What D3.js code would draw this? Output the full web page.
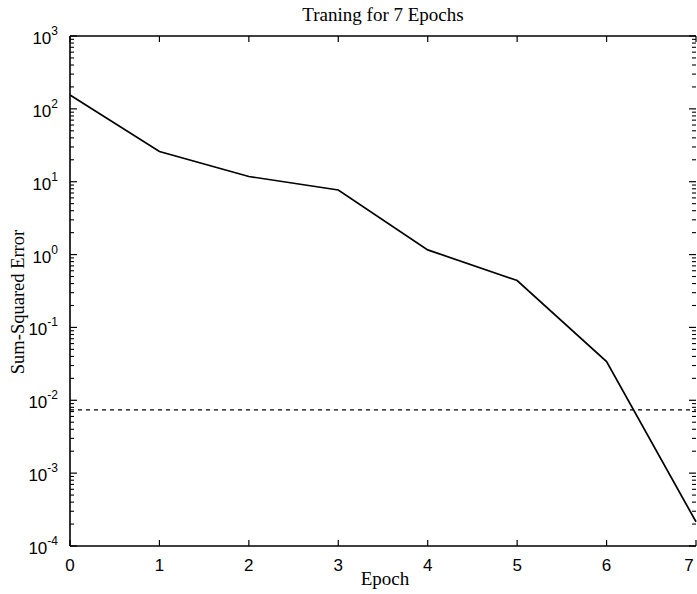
<!DOCTYPE html>
<html><head><meta charset="utf-8">
<script src="https://cdn.jsdelivr.net/npm/d3@7"></script>
<style>body{margin:0;background:#fff}svg{display:block}</style>
</head><body>
<svg id="c" width="697" height="594"></svg>
<script>
const epochs = [0,1,2,3,4,5,6,7];
const sse = [155, 26, 11.8, 7.7, 1.16, 0.44, 0.034, 0.000215];
const goal = [0.0074];
const xTicks = [0,1,2,3,4,5,6,7];
const yExps = [3,2,1,0,-1,-2,-3,-4];
const title = "Traning for 7 Epochs";
const xLabel = "Epoch";
const yLabel = "Sum-Squared Error";

const svg = d3.select("#c");
const L = 70, R = 696, T = 36, B = 546;
const x = d3.scaleLinear().domain([0,7]).range([L,R]);
const y = d3.scaleLog().domain([1e-4,1e3]).range([B,T]);
const serif = "'Liberation Serif','Times New Roman',serif";
const sans = "'Liberation Sans',Arial,sans-serif";

// axes lines (left, bottom, top)
const g = svg.append("g").attr("stroke","#000").attr("stroke-width",1.6);
g.append("line").attr("x1",L).attr("x2",L).attr("y1",T).attr("y2",B);
g.append("line").attr("x1",L).attr("x2",R).attr("y1",B).attr("y2",B);
g.append("line").attr("x1",L).attr("x2",R).attr("y1",T).attr("y2",T);

// x ticks bottom and top
xTicks.forEach(t=>{
  svg.append("line").attr("x1",x(t)).attr("x2",x(t)).attr("y1",B).attr("y2",B-6).attr("stroke","#000").attr("stroke-width",1.2);
  svg.append("line").attr("x1",x(t)).attr("x2",x(t)).attr("y1",T).attr("y2",T+6).attr("stroke","#000").attr("stroke-width",1.2);
  svg.append("text").attr("x",Math.min(x(t),689)).attr("y",B+25).attr("text-anchor","middle")
    .attr("font-family",sans).attr("font-size",17).text(t);
});

// y ticks major + minor (left and right)
yExps.forEach(e=>{
  const v = Math.pow(10,e);
  [[L,1],[R,-1]].forEach(([ax,dir])=>{
    svg.append("line").attr("x1",ax).attr("x2",ax+dir*7).attr("y1",y(v)).attr("y2",y(v)).attr("stroke","#000").attr("stroke-width",1.2);
    if (e < 3) for (let k=2;k<=9;k++){
      const mv = k*v;
      svg.append("line").attr("x1",ax).attr("x2",ax+dir*4).attr("y1",y(mv)).attr("y2",y(mv)).attr("stroke","#000").attr("stroke-width",1.1);
    }
  });
  const tx = svg.append("text").attr("x",L-12).attr("y",y(v)+8).attr("text-anchor","end")
    .attr("font-family",sans).attr("font-size",17);
  tx.append("tspan").text("10");
  tx.append("tspan").attr("dy",-9).attr("font-size",12).text(e);
});

// goal dashed line
svg.append("line").attr("x1",L).attr("x2",R).attr("y1",y(goal[0])).attr("y2",y(goal[0]))
  .attr("stroke","#000").attr("stroke-width",1.3).attr("stroke-dasharray","4,4");

// error line
const line = d3.line().x((d,i)=>x(epochs[i])).y(d=>y(d));
svg.append("path").datum(sse).attr("d",line).attr("fill","none").attr("stroke","#000").attr("stroke-width",1.7);

// labels
svg.append("text").attr("x",(L+R)/2).attr("y",21).attr("text-anchor","middle")
  .attr("font-family",serif).attr("font-size",19).text(title);
svg.append("text").attr("x",385).attr("y",585).attr("text-anchor","middle")
  .attr("font-family",serif).attr("font-size",19).text(xLabel);
svg.append("text").attr("transform","translate(24,302) rotate(-90)").attr("text-anchor","middle")
  .attr("font-family",serif).attr("font-size",18.5).text(yLabel);
</script>
</body></html>
